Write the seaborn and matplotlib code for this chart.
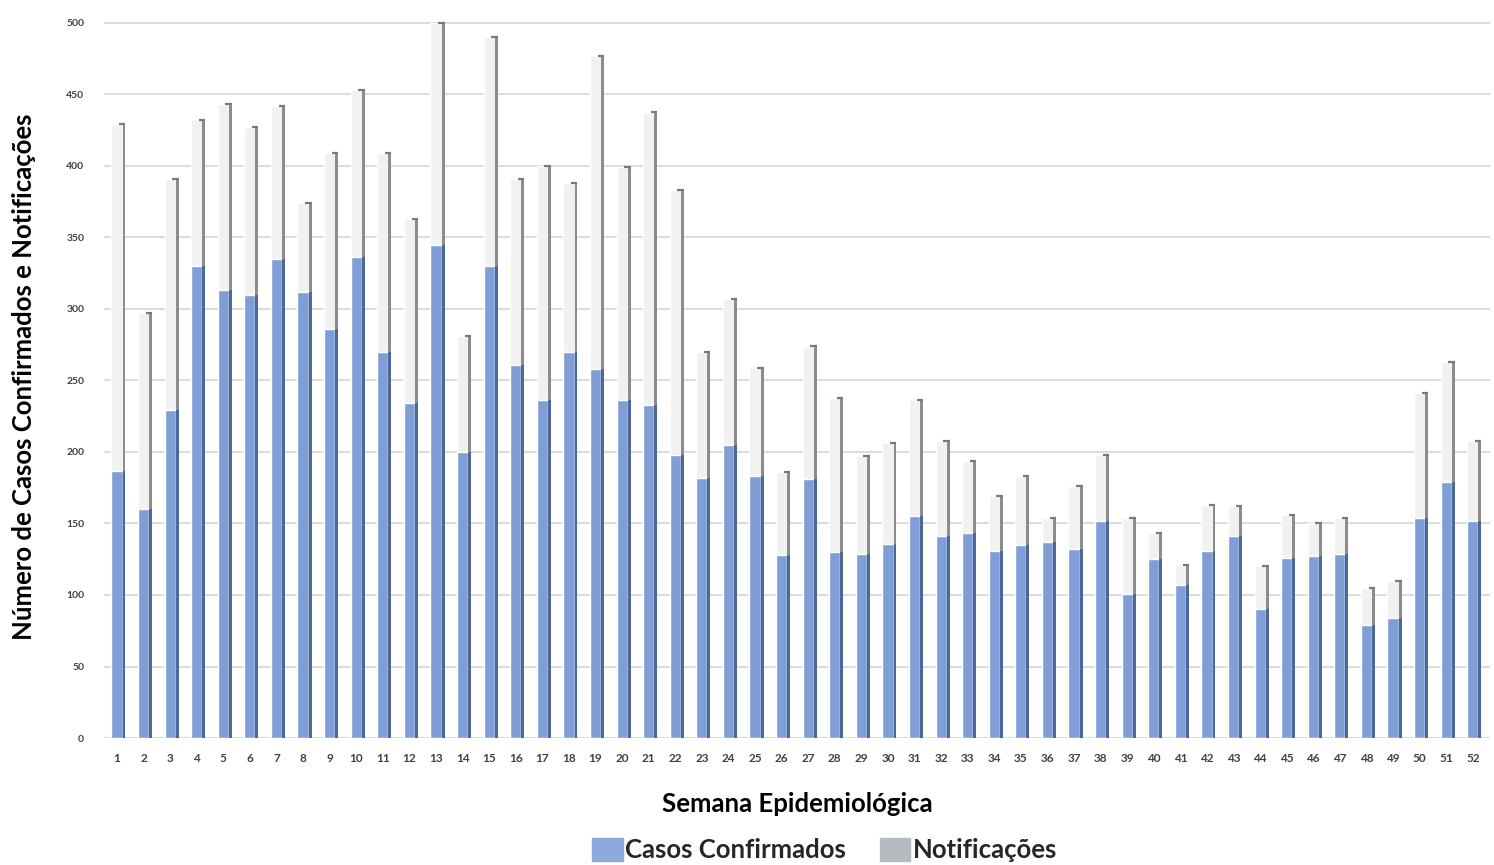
import matplotlib
matplotlib.use("Agg")
import matplotlib.pyplot as plt
import matplotlib.patches as mpatches
import numpy as np
import pandas as pd
import seaborn as sns

# Weekly counts per epidemiological week
semanas = [str(i) for i in range(1, 53)]
notificacoes = [429, 297, 391, 432, 443, 427, 442, 374, 409, 453,
                409, 363, 500, 281, 490, 391, 400, 388, 477, 399,
                438, 383, 270, 307, 259, 186, 274, 238, 197, 206,
                236, 208, 194, 169, 183, 154, 176, 198, 154, 143,
                121, 163, 162, 120, 156, 150, 154, 105, 110, 241,
                263, 208]
confirmados = [187, 160, 229, 330, 313, 310, 335, 312, 286, 336,
               270, 234, 345, 200, 330, 261, 236, 270, 258, 236,
               233, 198, 182, 205, 183, 128, 181, 130, 129, 136,
               155, 141, 143, 131, 135, 137, 132, 152, 101, 125,
               107, 131, 141, 90, 126, 127, 129, 79, 84, 154,
               179, 152]
yticks = [0, 50, 100, 150, 200, 250, 300, 350, 400, 450, 500]

df = pd.DataFrame({"semana": semanas,
                   "notificacoes": notificacoes,
                   "confirmados": confirmados})

sns.set_theme(style="white")
plt.rcParams["font.family"] = ["Lato", "DejaVu Sans"]

BLUE = "#7f9ed6"
BLUE_SIDE = "#4d6796"
GRAY = "#f1f1f1"
GRAY_SIDE = "#8c8c8c"
FRONT_W = 0.42
SIDE_W = 0.11

fig = plt.figure(figsize=(14.94, 8.65), dpi=100)
ax = fig.add_axes([0.0694, 0.1468, 0.928, 0.835])

# Notifications (back bars)
sns.barplot(data=df, x="semana", y="notificacoes", order=semanas,
            color=GRAY, saturation=1, width=FRONT_W, ax=ax, zorder=2)
pos = np.arange(len(semanas))
side_x = pos + FRONT_W / 2 + SIDE_W / 2
ax.bar(side_x, df["notificacoes"], width=SIDE_W, color=GRAY_SIDE,
       linewidth=0, zorder=2)
ax.hlines(df["notificacoes"], pos + 0.08, pos + FRONT_W / 2 + SIDE_W,
          color="#7a7a7a", linewidth=1.6, zorder=2.1)

# Confirmed cases (front bars)
sns.barplot(data=df, x="semana", y="confirmados", order=semanas,
            color=BLUE, saturation=1, width=FRONT_W, ax=ax, zorder=3)
ax.bar(side_x, df["confirmados"], width=SIDE_W, color=BLUE_SIDE,
       linewidth=0, zorder=3)

ax.set_xlim(-0.5, len(semanas) - 0.35)
ax.set_ylim(0, 505)
ax.set_yticks(yticks)
ax.set_yticklabels([str(v) for v in yticks], fontsize=7.5, fontweight="bold",
                   color="#404040")
ax.set_xticks(pos)
ax.set_xticklabels(semanas, fontsize=8.5, fontweight="bold", color="#404040")
ax.tick_params(axis="y", length=0, pad=14)
ax.tick_params(axis="x", length=0, pad=11)
ax.yaxis.grid(True, color="#d9d9d9", linewidth=1.3, zorder=0)
ax.set_axisbelow(True)
for s in ax.spines.values():
    s.set_visible(False)

ax.set_xlabel("Semana Epidemiológica", fontsize=18.5, fontweight="bold",
              color="black", labelpad=20)
ax.set_ylabel("Número de Casos Confirmados e Notificações", fontsize=18.5,
              fontweight="bold", color="black", labelpad=22)

handles = [mpatches.Patch(color="#8eaadc", label="Casos Confirmados"),
           mpatches.Patch(color="#b6bac2", label="Notificações")]
leg = fig.legend(handles=handles, loc="lower center", ncol=2,
                 bbox_to_anchor=(0.552, 0.0), frameon=False,
                 borderaxespad=0, borderpad=0.1,
                 prop={"family": ["Lato", "DejaVu Sans"], "weight": "bold",
                       "size": 18.5},
                 handlelength=1.2, handleheight=1.0, handletextpad=0.1,
                 columnspacing=1.3)

fig.savefig("out.png", dpi=100, facecolor="white")
